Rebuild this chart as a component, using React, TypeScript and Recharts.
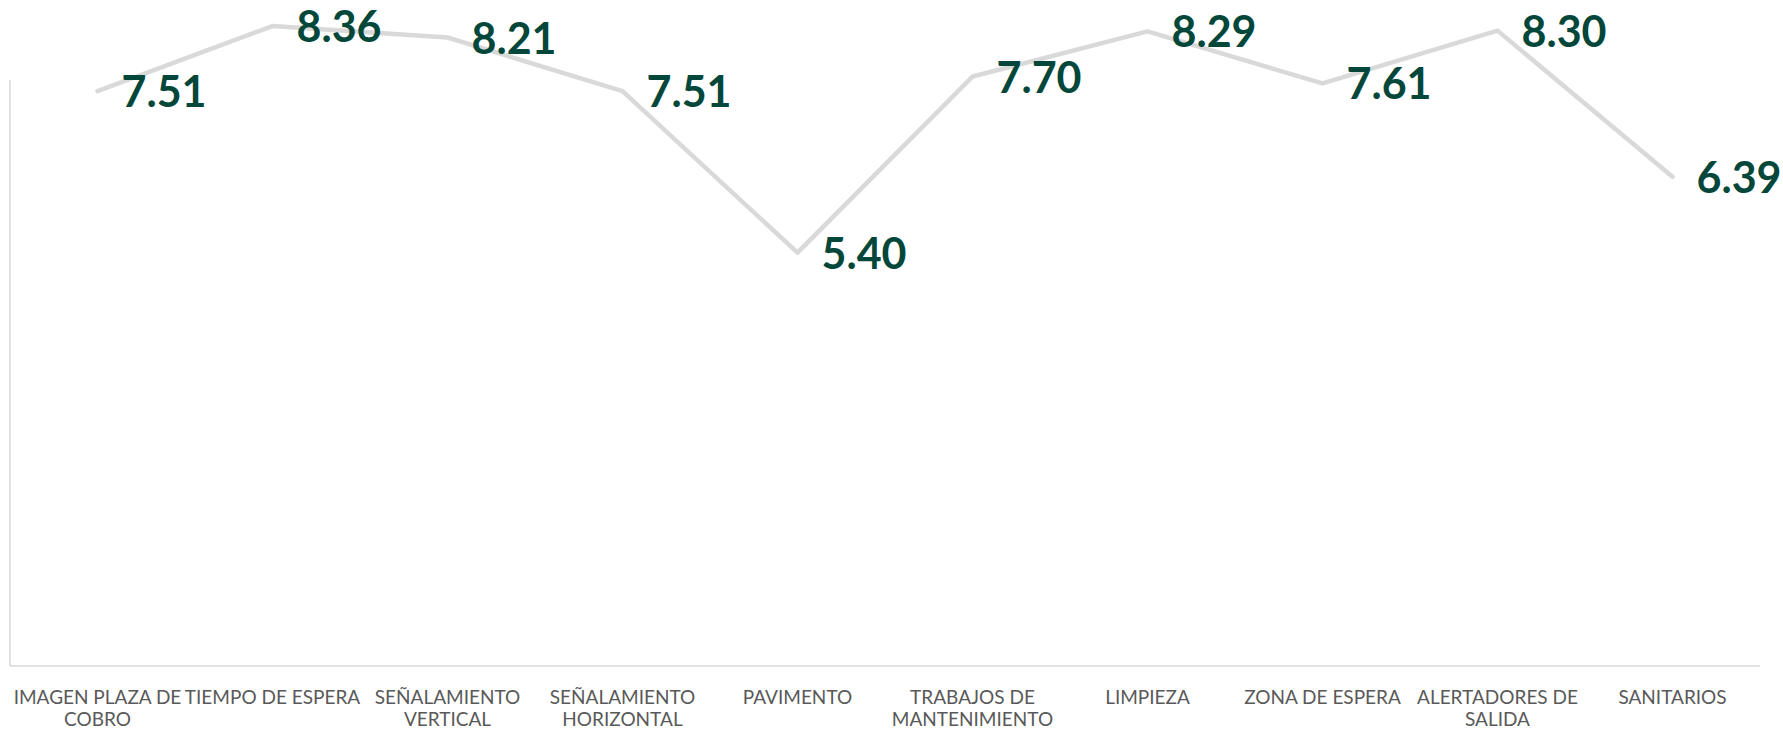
import { LineChart, Line, XAxis, YAxis, LabelList } from 'recharts'

const categorias = [
  'IMAGEN PLAZA DE\nCOBRO',
  'TIEMPO DE ESPERA',
  'SEÑALAMIENTO\nVERTICAL',
  'SEÑALAMIENTO\nHORIZONTAL',
  'PAVIMENTO',
  'TRABAJOS DE\nMANTENIMIENTO',
  'LIMPIEZA',
  'ZONA DE ESPERA',
  'ALERTADORES DE\nSALIDA',
  'SANITARIOS',
]
const calificaciones = [7.51, 8.36, 8.21, 7.51, 5.4, 7.7, 8.29, 7.61, 8.3, 6.39]

const data = categorias.map((c, i) => ({ name: c, valor: calificaciones[i] }))

const GRIS = '#d9d9d9'
const VERDE = '#03473a'

function TickCategoria({ x, y, payload }: any) {
  const lineas = String(payload.value).split('\n')
  return (
    <text x={x} y={y} textAnchor="middle" fill="#595959" fontFamily="Lato" fontSize={19}>
      {lineas.map((l, i) => (
        <tspan key={i} x={x} dy={i === 0 ? 38 : 22}>{l}</tspan>
      ))}
    </text>
  )
}

function Etiqueta(p: any) {
  const x = p.viewBox?.x ?? p.x
  const y = p.viewBox?.y ?? p.y
  return (
    <text x={x + 24} y={y + 16} fill={VERDE} fontFamily="Lato" fontWeight="bold" fontSize={43}>
      {Number(p.value).toFixed(2)}
    </text>
  )
}

export default function App() {
  return (
    <div style={{ width: 1783, height: 730, background: '#fff' }}>
      <style>{'body{margin:0}'}</style>
      <LineChart width={1783} height={730} data={data} margin={{ top: 0, right: 23, left: 0, bottom: 0 }}>
        <XAxis
          dataKey="name"
          scale="band"
          interval={0}
          height={64}
          tickSize={0}
          tickMargin={0}
          tickLine={false}
          axisLine={{ stroke: GRIS, strokeWidth: 1.5 }}
          tick={<TickCategoria />}
        />
        <YAxis
          width={10}
          domain={[0, 8.7]}
          tick={false}
          tickLine={false}
          axisLine={{ stroke: GRIS, strokeWidth: 1.5, strokeDasharray: '0 80 700' }}
        />
        <Line
          type="linear"
          dataKey="valor"
          stroke={GRIS}
          strokeWidth={4.5}
          strokeLinecap="round"
          strokeLinejoin="round"
          dot={false}
          activeDot={false}
          isAnimationActive={false}
        >
          <LabelList dataKey="valor" content={<Etiqueta />} />
        </Line>
      </LineChart>
    </div>
  )
}
